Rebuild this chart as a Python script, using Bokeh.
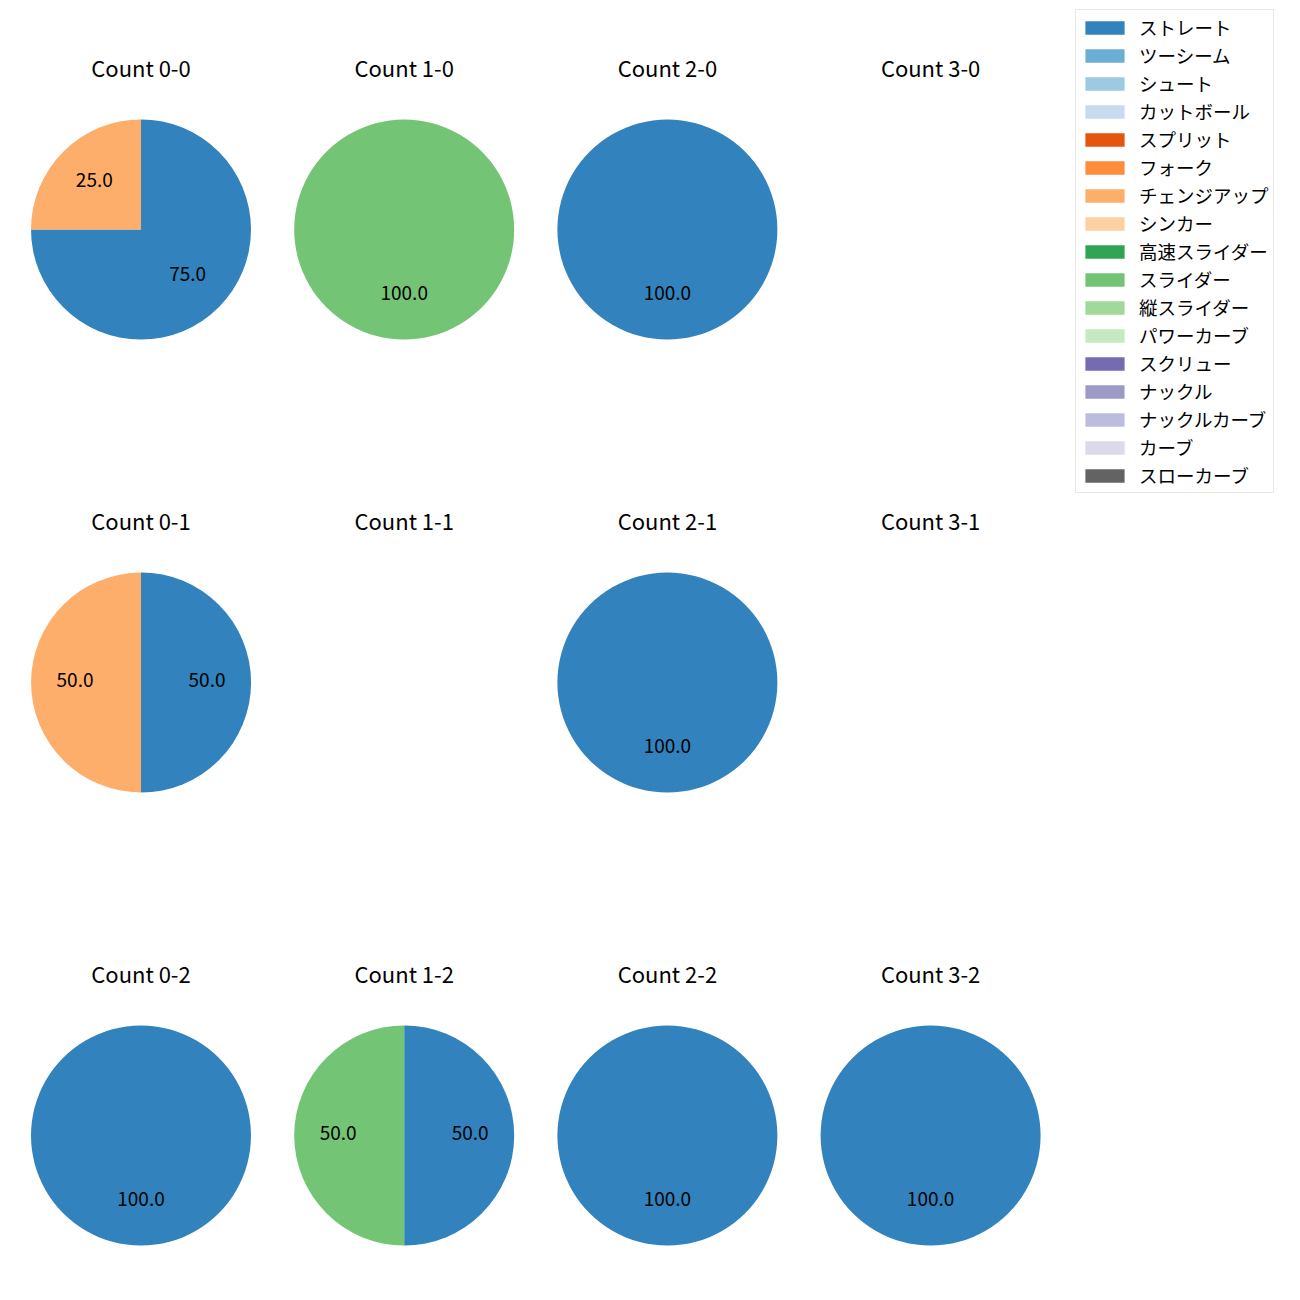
import numpy as np
from bokeh.plotting import figure
from bokeh.models import Range1d, Legend, LegendItem, ColumnDataSource
from bokeh.core.properties import value
from bokeh.embed import file_html
from bokeh.resources import INLINE

# ---- data ----
categories = ["ストレート", "ツーシーム", "シュート", "カットボール", "スプリット", "フォーク",
              "チェンジアップ", "シンカー", "高速スライダー", "スライダー", "縦スライダー",
              "パワーカーブ", "スクリュー", "ナックル", "ナックルカーブ", "カーブ", "スローカーブ"]
colors = ["#3182bd", "#6baed6", "#9ecae1", "#c6dbef", "#e6550d", "#fd8d3c",
          "#fdae6b", "#fdd0a2", "#31a354", "#74c476", "#a1d99b", "#c7e9c0",
          "#756bb1", "#9e9ac8", "#bcbddc", "#dadaeb", "#636363"]

balls = [0, 1, 2, 3]
strikes = [0, 1, 2]
# counts per (balls, strikes): dict category -> value
pie_0_0 = {"ストレート": 3, "チェンジアップ": 1}
pie_1_0 = {"スライダー": 1}
pie_2_0 = {"ストレート": 1}
pie_3_0 = {}
pie_0_1 = {"ストレート": 1, "チェンジアップ": 1}
pie_1_1 = {}
pie_2_1 = {"ストレート": 1}
pie_3_1 = {}
pie_0_2 = {"ストレート": 1}
pie_1_2 = {"ストレート": 1, "スライダー": 1}
pie_2_2 = {"ストレート": 1}
pie_3_2 = {"ストレート": 1}
pies = {
    (0, 0): pie_0_0, (1, 0): pie_1_0, (2, 0): pie_2_0, (3, 0): pie_3_0,
    (0, 1): pie_0_1, (1, 1): pie_1_1, (2, 1): pie_2_1, (3, 1): pie_3_1,
    (0, 2): pie_0_2, (1, 2): pie_1_2, (2, 2): pie_2_2, (3, 2): pie_3_2,
}

# ---- layout (screen pixels, relative to the canvas top-left) ----
W = H = 1292
X0, DX = 140.5, 263.2
Y0, DY = 229, 453
R = 110
TITLE_DY = 163
LABEL_LIFT = 2.5
FONT = "Noto Sans CJK JP"

def sx(x):
    return x

def sy(y):
    return H - y

p = figure(width=W, height=H, output_backend="svg", toolbar_location=None,
           x_range=Range1d(0, W), y_range=Range1d(0, H),
           min_border=0, outline_line_color=None)
p.xaxis.visible = False
p.yaxis.visible = False
p.grid.visible = False

slices = {c: dict(x=[], y=[], s=[], e=[]) for c in categories}
lab_x, lab_y, lab_t = [], [], []
tit_x, tit_y, tit_t = [], [], []

for (b, s), d in pies.items():
    cx = X0 + b * DX
    cy = Y0 + s * DY
    tit_x.append(sx(cx)); tit_y.append(sy(cy - TITLE_DY)); tit_t.append(f"Count {b}-{s}")
    total = sum(d.values())
    if total == 0:
        continue
    ang = 90.0
    for c in categories:
        if c not in d:
            continue
        frac = d[c] / total
        a1 = ang
        a2 = ang - 360.0 * frac
        mid = np.deg2rad((a1 + a2) / 2)
        draw_a2 = a2 + 0.01 if frac >= 1.0 else a2
        slices[c]["x"].append(sx(cx)); slices[c]["y"].append(sy(cy))
        slices[c]["s"].append(draw_a2); slices[c]["e"].append(a1)
        lab_x.append(sx(cx + 0.6 * R * np.cos(mid)))
        lab_y.append(sy(cy - 0.6 * R * np.sin(mid) - LABEL_LIFT))
        lab_t.append(f"{frac * 100:.1f}")
        ang = a2

# categories without slices get an invisible zero-angle wedge off-canvas so their legend patch draws
for c in categories:
    if not slices[c]["x"]:
        slices[c]["x"].append(-1000); slices[c]["y"].append(-1000)
        slices[c]["s"].append(0.0); slices[c]["e"].append(0.0)

items = []
for c, col in zip(categories, colors):
    src = ColumnDataSource(slices[c])
    r = p.wedge(x="x", y="y", radius=R, start_angle="s", end_angle="e",
                start_angle_units="deg", end_angle_units="deg", direction="anticlock",
                fill_color=col, line_color=None, source=src)
    items.append(LegendItem(label=c, renderers=[r]))

p.text(x=lab_x, y=lab_y, text=lab_t, text_font=value(FONT), text_font_size="19px",
       text_align="center", text_baseline="middle", text_color="black")
p.text(x=tit_x, y=tit_y, text=tit_t, text_font=value(FONT), text_font_size="22px",
       text_align="center", text_baseline="middle", text_color="black")

legend = Legend(items=items, location=(1075, 799), margin=0, padding=4,
                glyph_width=49, glyph_height=17, label_standoff=10, spacing=2,
                label_height=26, label_text_font=FONT, label_text_font_size="18.5px",
                label_text_color="black",
                border_line_color="#d0d0d0", border_line_width=1.5,
                background_fill_alpha=0.8)
p.add_layout(legend)

open("out.html", "w").write(file_html(p, INLINE))
